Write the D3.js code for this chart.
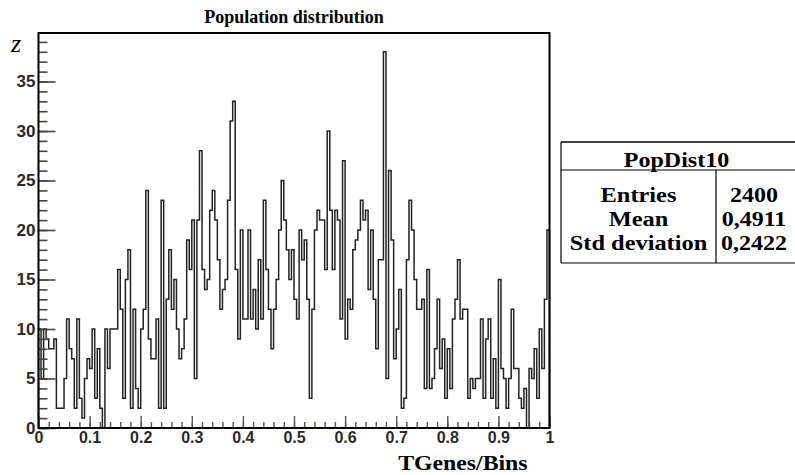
<!DOCTYPE html>
<html>
<head>
<meta charset="utf-8">
<script src="https://cdn.jsdelivr.net/npm/d3@7"></script>
<style>
  body { margin: 0; background: #fff; }
  svg { display: block; }
</style>
</head>
<body>
<div id="root"></div>
<script>
// bin contents, 200 bins from 0 to 1
const counts = [
  10, 5, 10, 9, 8, 8, 9, 2, 2, 2,
  5, 11, 8, 7, 2, 11, 3, 1, 5, 7,
  6, 10, 3, 8, 2, 0, 10, 6, 10, 10,
  10, 16, 12, 3, 15, 18, 2, 12, 4, 2,
  10, 12, 24, 9, 7, 7, 11, 2, 23, 2,
  13, 18, 12, 15, 10, 7, 8, 11, 19, 16,
  21, 5, 21, 28, 16, 14, 15, 22, 24, 21,
  17, 12, 14, 15, 23, 31, 33, 16, 9, 20,
  11, 11, 20, 11, 14, 10, 17, 11, 23, 16,
  12, 8, 12, 15, 20, 25, 21, 18, 15, 18,
  13, 11, 20, 17, 19, 13, 3, 12, 20, 22,
  21, 21, 16, 30, 22, 16, 22, 21, 11, 27,
  9, 13, 12, 18, 19, 20, 23, 21, 22, 14,
  20, 13, 8, 17, 17, 38, 5, 26, 19, 7,
  10, 14, 2, 3, 17, 23, 20, 15, 12, 12,
  13, 4, 16, 4, 5, 8, 13, 6, 9, 3,
  8, 4, 11, 13, 17, 11, 12, 12, 3, 5,
  4, 5, 5, 11, 3, 9, 11, 3, 7, 2,
  15, 6, 5, 2, 5, 12, 6, 6, 3, 2,
  4, 0, 6, 5, 8, 3, 10, 6, 13, 20
];

const xTicks = [0, 0.1, 0.2, 0.3, 0.4, 0.5, 0.6, 0.7, 0.8, 0.9, 1];
const xTickLabels = ['0', '0.1', '0.2', '0.3', '0.4', '0.5', '0.6', '0.7', '0.8', '0.9', '1'];
const yTicks = [0, 5, 10, 15, 20, 25, 30, 35];
const yTickLabels = ['0', '5', '10', '15', '20', '25', '30', '35'];

const histName = 'PopDist10';
const statNames = ['Entries', 'Mean', 'Std deviation'];
const statValues = ['2400', '0,4911', '0,2422'];

const chartTitle = 'Population distribution';
const xTitle = 'TGenes/Bins';
const yTitle = 'z';

function createChart() {
  const width = 795;
  const height = 475;
  const frame = { left: 38.5, right: 549.5, top: 33, bottom: 428 };
  const yMax = 39.9;

  const svg = d3.select('#root').append('svg')
    .attr('width', width)
    .attr('height', height);

  const xScale = d3.scaleLinear().domain([0, 1]).range([frame.left, frame.right]);
  const yScale = d3.scaleLinear().domain([0, yMax]).range([frame.bottom, frame.top]);

  // histogram outline
  const nBins = counts.length;
  const edges = counts.map((c, i) => [i / nBins, c]);
  edges.push([1, counts[nBins - 1]]);
  const steps = [[0, 0]].concat(edges, [[1, 0]]);

  const line = d3.line()
    .x((d) => xScale(d[0]))
    .y((d) => yScale(d[1]))
    .curve(d3.curveStepAfter);

  svg.append('path')
    .datum(steps)
    .attr('d', line)
    .attr('fill', 'none')
    .attr('stroke', '#222')
    .attr('stroke-width', 1.5);

  // Y axis ///////////////////////////////////////////////////////////////
  const yMinor = d3.range(0, 40, 1);
  svg.append('g')
    .attr('transform', `translate(${frame.left},0)`)
    .call(d3.axisLeft(yScale).tickValues(yMinor).tickSize(-9).tickFormat(''))
    .call((g) => g.select('.domain').remove())
    .selectAll('line').attr('stroke', '#444').attr('stroke-width', 1.6);

  const yAxisG = svg.append('g')
    .attr('transform', `translate(${frame.left},0)`)
    .call(d3.axisLeft(yScale).tickValues(yTicks).tickSize(-17).tickPadding(3)
      .tickFormat((d, i) => yTickLabels[i]));
  yAxisG.select('.domain').remove();
  yAxisG.selectAll('line').attr('stroke', '#444').attr('stroke-width', 1.6);
  yAxisG.selectAll('text')
    .attr('font-family', 'Liberation Sans, Arial, sans-serif')
    .attr('font-weight', 'bold')
    .attr('font-size', 17)
    .attr('fill', '#2a2a2a');

  // X axis ///////////////////////////////////////////////////////////////
  const xMinor = d3.range(0, 51).map((i) => i / 50);
  svg.append('g')
    .attr('transform', `translate(0,${frame.bottom})`)
    .call(d3.axisBottom(xScale).tickValues(xMinor).tickSize(-6).tickFormat(''))
    .call((g) => g.select('.domain').remove())
    .selectAll('line').attr('stroke', '#555').attr('stroke-width', 1.4);

  const xAxisG = svg.append('g')
    .attr('transform', `translate(0,${frame.bottom})`)
    .call(d3.axisBottom(xScale).tickValues(xTicks).tickSize(-12).tickPadding(4)
      .tickFormat((d, i) => xTickLabels[i]));
  xAxisG.select('.domain').remove();
  xAxisG.selectAll('line').attr('stroke', '#555').attr('stroke-width', 1.4);
  xAxisG.selectAll('text')
    .attr('font-family', 'Liberation Sans, Arial, sans-serif')
    .attr('font-weight', 'bold')
    .attr('font-size', 16)
    .attr('fill', '#2a2a2a');

  // frame
  svg.append('rect')
    .attr('x', frame.left)
    .attr('y', frame.top)
    .attr('width', frame.right - frame.left)
    .attr('height', frame.bottom - frame.top)
    .attr('fill', 'none')
    .attr('stroke', '#000')
    .attr('stroke-width', 2);

  // titles
  svg.append('text')
    .attr('x', (frame.left + frame.right) / 2)
    .attr('y', 23)
    .attr('text-anchor', 'middle')
    .attr('font-family', 'Liberation Serif, Times New Roman, serif')
    .attr('font-weight', 'bold')
    .attr('font-size', 18)
    .text(chartTitle);

  svg.append('text')
    .attr('transform', `translate(${frame.right - 22},470) scale(1.08,1)`)
    .attr('text-anchor', 'end')
    .attr('font-family', 'Liberation Serif, Times New Roman, serif')
    .attr('font-weight', 'bold')
    .attr('font-size', 22)
    .text(xTitle);

  svg.append('text')
    .attr('x', 11)
    .attr('y', 52)
    .attr('font-family', 'Liberation Serif, Times New Roman, serif')
    .attr('font-style', 'italic')
    .attr('font-size', 26)
    .text(yTitle);

  // stats box ////////////////////////////////////////////////////////////
  const box = { left: 561, right: 796, top: 142, sep: 170, divider: 716, bottom: 263 };
  const stats = svg.append('g');
  stats.append('line')
    .attr('x1', box.left).attr('x2', box.right).attr('y1', box.top).attr('y2', box.top)
    .attr('stroke', '#000').attr('stroke-width', 1.5);
  stats.append('line')
    .attr('x1', box.left).attr('x2', box.right).attr('y1', box.sep).attr('y2', box.sep)
    .attr('stroke', '#000').attr('stroke-width', 1.2);
  stats.append('line')
    .attr('x1', box.left).attr('x2', box.right).attr('y1', box.bottom).attr('y2', box.bottom)
    .attr('stroke', '#000').attr('stroke-width', 1.2);
  stats.append('line')
    .attr('x1', box.left).attr('x2', box.left).attr('y1', box.top).attr('y2', box.bottom)
    .attr('stroke', '#000').attr('stroke-width', 1.2);
  stats.append('line')
    .attr('x1', box.divider).attr('x2', box.divider).attr('y1', box.sep).attr('y2', box.bottom)
    .attr('stroke', '#000').attr('stroke-width', 1.2);

  const statFont = (sel) => sel
    .attr('font-family', 'Liberation Serif, Times New Roman, serif')
    .attr('font-weight', 'bold')
    .attr('font-size', 20)
    .attr('text-anchor', 'middle');

  stats.append('text')
    .attr('transform', `translate(${(box.left + box.right) / 2 - 2},167) scale(1.2,1)`)
    .call(statFont)
    .text(histName);

  const rowY = [202, 226, 250];
  statNames.forEach((name, i) => {
    stats.append('text')
      .attr('transform', `translate(${(box.left + box.divider) / 2},${rowY[i]}) scale(1.22,1)`)
      .call(statFont)
      .text(name);
    stats.append('text')
      .attr('transform', `translate(${(box.divider + box.right) / 2 - 2},${rowY[i]}) scale(1.2,1)`)
      .call(statFont)
      .text(statValues[i]);
  });
}

createChart();
</script>
</body>
</html>
